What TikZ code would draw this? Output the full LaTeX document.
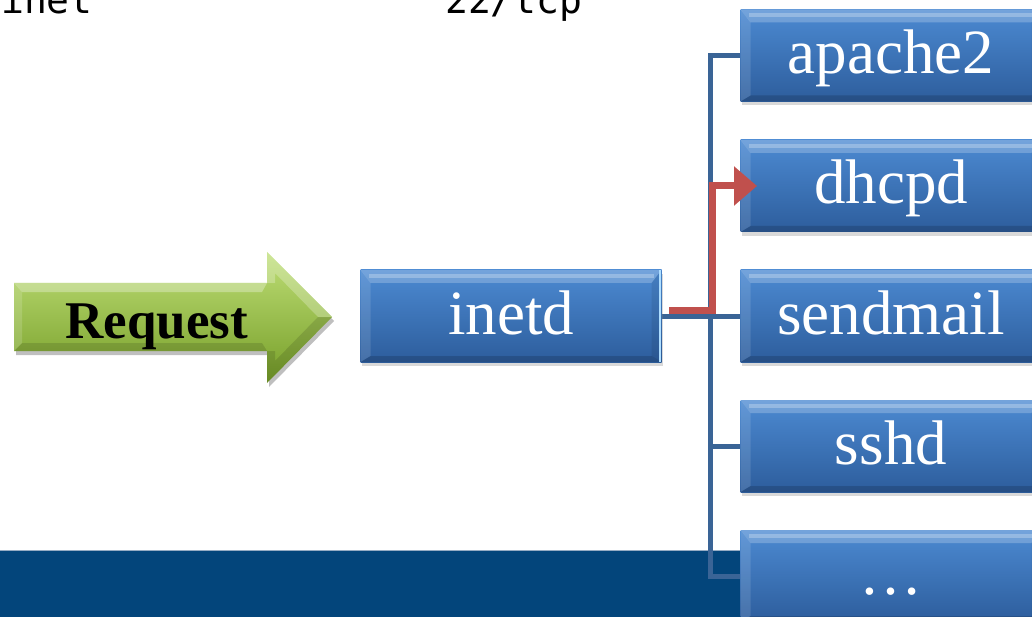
\documentclass[tikz,border=0pt]{standalone}
\usepackage{fontspec}
\setmainfont{Liberation Serif}
\newfontfamily\monofont{DejaVu Sans Mono}
\usetikzlibrary{arrows.meta,shadows,calc}
\definecolor{boxtop}{RGB}{76,138,210}
\definecolor{boxbot}{RGB}{45,93,156}
\definecolor{conn}{RGB}{58,100,150}
\definecolor{redarr}{RGB}{192,80,77}
\definecolor{band}{RGB}{3,69,123}
\definecolor{bandedge}{RGB}{150,172,196}
\definecolor{grtop}{RGB}{190,222,118}
\definecolor{grbot}{RGB}{118,158,40}
\pgfdeclarelayer{bandlayer}
\pgfdeclarelayer{connlayer}
\pgfsetlayers{bandlayer,connlayer,main}
\begin{document}
\begin{tikzpicture}[x=1pt,y=-1pt,
  procbox/.style={rectangle, minimum width=301pt, minimum height=92pt, inner sep=0pt,
    text=white, font=\fontsize{63}{63}\selectfont, text height=45pt, text depth=9pt,
    top color=boxtop, bottom color=boxbot,
    drop shadow={shadow xshift=1.5pt, shadow yshift=-4pt, opacity=0.3},
    path picture={
      \path (path picture bounding box.north west) coordinate (pNW)
            (path picture bounding box.north east) coordinate (pNE)
            (path picture bounding box.south west) coordinate (pSW)
            (path picture bounding box.south east) coordinate (pSE);
      \fill[white,opacity=0.22] (pNW) -- (pNE) -- ([shift={(-10pt,-13pt)}]pNE) -- ([shift={(10pt,-13pt)}]pNW) -- cycle;
      \fill[white,opacity=0.25] ([shift={(8pt,-4pt)}]pNW) rectangle ([shift={(-8pt,-8pt)}]pNE);
      \fill[white,opacity=0.12] (pNW) -- ([shift={(10pt,-13pt)}]pNW) -- ([shift={(10pt,6pt)}]pSW) -- (pSW) -- cycle;
      \fill[black,opacity=0.15] (pSW) -- ([shift={(10pt,6pt)}]pSW) -- ([shift={(-10pt,6pt)}]pSE) -- (pSE) -- cycle;
      \fill[black,opacity=0.08] (pNE) -- ([shift={(-10pt,-13pt)}]pNE) -- ([shift={(-10pt,6pt)}]pSE) -- (pSE) -- cycle;
    }},
  connline/.style={draw=conn, line width=5pt},
  redline/.style={draw=redarr, line width=7pt, -{Triangle[length=23pt,width=38pt]}},
  monotext/.style={anchor=base west, inner sep=0pt, font=\monofont\fontsize{38}{38}\selectfont},
]
\useasboundingbox (0,0) rectangle (1032,617);

% header text (cut at the top, as in the reference)
\node[monotext] (inet) at (1,14) {inet};
\node[monotext] (tcp) at (445,14) {22/tcp};

% bottom band
\begin{pgfonlayer}{bandlayer}
  \fill[band] (0,550) rectangle (1032,617);
  \draw[bandedge, line width=1.5pt] (0,550.5) -- (1032,550.5);
\end{pgfonlayer}

% green Request arrow
\fill[black,opacity=0.25] (16,287) -- (269,287) -- (269,256) -- (334,321) -- (269,387) -- (269,355) -- (16,355) -- cycle;
\shade[top color=grtop, bottom color=grbot] (14,283) -- (267,283) -- (267,252) -- (332,317) -- (267,383) -- (267,351) -- (14,351) -- cycle;
\fill[white,opacity=0.3] (14,283) -- (267,283) -- (262,292) -- (22,292) -- cycle;
\fill[white,opacity=0.15] (14,283) -- (22,292) -- (22,343) -- (14,351) -- cycle;
\fill[black,opacity=0.12] (14,351) -- (22,343) -- (262,343) -- (267,351) -- cycle;
\fill[white,opacity=0.25] (267,252) -- (332,317) -- (318,317) -- (275,273) -- (275,283) -- (267,283) -- cycle;
\fill[black,opacity=0.12] (332,317) -- (267,383) -- (267,351) -- (275,351) -- (275,361) -- (318,317) -- cycle;
\node[anchor=base, inner sep=0pt, font=\fontsize{53}{53}\selectfont\bfseries] (req) at (157,338) {Request};

% boxes
\node[procbox] (inetd) at (511,316) {inetd};
\draw[line width=2pt, color={rgb,255:red,175;green,222;blue,255}] ([xshift=-2pt]inetd.north east) -- ([xshift=-2pt]inetd.south east);
\node[procbox] (apache) at (891,55.5) {apache2};
\node[procbox] (dhcpd) at (891,186) {dhcpd};
\node[procbox] (sendmail) at (891,316) {sendmail};
\node[procbox] (sshd) at (891,446) {sshd};
\node[procbox] (more) at (891,576) {\char"2026};

% blue connectors
\coordinate (bus) at (710,316);
\begin{pgfonlayer}{connlayer}
  \draw[connline] (inetd.east) -- (sendmail.west);
  \draw[connline] (bus) |- (apache.west);
  \draw[connline] (bus) |- (dhcpd.west);
  \draw[connline] (bus) |- (sshd.west);
  \draw[connline] (bus) |- (more.west);
\end{pgfonlayer}

% red path to dhcpd
\coordinate (rstart) at (669,310);
\coordinate (rtip) at (757,186);
\draw[redline] (rstart) -- (712,310) |- (rtip);
\end{tikzpicture}
\end{document}
